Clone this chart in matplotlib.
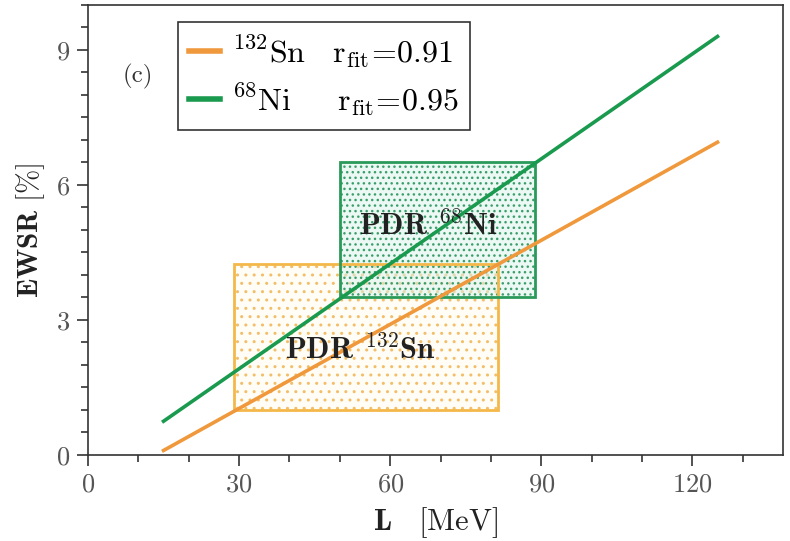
import matplotlib.pyplot as plt
from matplotlib.patches import Rectangle
from matplotlib.ticker import MultipleLocator

plt.rcParams['font.family'] = 'serif'
plt.rcParams['font.serif'] = ['cmr10', 'DejaVu Serif']
plt.rcParams['mathtext.fontset'] = 'cm'
plt.rcParams['axes.formatter.use_mathtext'] = True
plt.rcParams['hatch.linewidth'] = 1.0

# lineas de ajuste (L en MeV, EWSR en %)
L_fit = [15, 125]
sn_fit = [0.1, 6.95]
ni_fit = [0.75, 9.3]

# cajas PDR: [L_min, L_max], [EWSR_min, EWSR_max]
sn_L = [29, 81.5]
sn_ewsr = [1.0, 4.25]
ni_L = [50, 88.7]
ni_ewsr = [3.5, 6.5]

c_sn = '#f0983c'
c_ni = '#1a9a4e'
c_sn_box = '#f4b84a'
c_ni_box = '#2a9a5a'

fig = plt.figure(figsize=(7.9, 5.41), dpi=100)
ax = fig.add_axes([0.1114, 0.159, 0.8797, 0.8318])

# caja Sn
ax.add_patch(Rectangle((sn_L[0], sn_ewsr[0]), sn_L[1] - sn_L[0], sn_ewsr[1] - sn_ewsr[0],
                       facecolor='#fffdf6', edgecolor='#f2be6a', hatch='..', linewidth=0, zorder=1))
ax.add_patch(Rectangle((sn_L[0], sn_ewsr[0]), sn_L[1] - sn_L[0], sn_ewsr[1] - sn_ewsr[0],
                       facecolor='none', edgecolor=c_sn_box, linewidth=2, zorder=2))
# caja Ni
ax.add_patch(Rectangle((ni_L[0], ni_ewsr[0]), ni_L[1] - ni_L[0], ni_ewsr[1] - ni_ewsr[0],
                       facecolor=(0.85, 0.95, 0.92, 0.5), edgecolor='#3a9e6a', hatch='...', linewidth=0, zorder=1.5))
ax.add_patch(Rectangle((ni_L[0], ni_ewsr[0]), ni_L[1] - ni_L[0], ni_ewsr[1] - ni_ewsr[0],
                       facecolor='none', edgecolor=c_ni_box, linewidth=2, zorder=2))

ax.plot(L_fit, sn_fit, color=c_sn, lw=2.6, zorder=3,
        label=r'$^{132}\mathrm{Sn}\quad \mathrm{r}_{\mathrm{fit}}\!=\!0.91$')
ax.plot(L_fit, ni_fit, color=c_ni, lw=2.6, zorder=3,
        label=r'$^{68}\mathrm{Ni}\quad\ \ \mathrm{r}_{\mathrm{fit}}\!=\!0.95$')

ax.text(67.5, 5.1, r'$\mathbf{PDR}\;\, ^{68}\mathbf{Ni}$', fontsize=22, ha='center', va='center', color='#222222', zorder=4)
ax.text(54, 2.35, r'$\mathbf{PDR}\;\, ^{132}\mathbf{Sn}$', fontsize=22, ha='center', va='center', color='#222222', zorder=4)
ax.text(9.8, 8.42, '(c)', fontsize=18, ha='center', va='center', color='#333333')

leg = ax.legend(loc='upper left', bbox_to_anchor=(0.1295, 0.962), borderaxespad=0,
                fontsize=23, handlelength=0.95, handletextpad=0.4, fancybox=False,
                framealpha=1, edgecolor='#333333', borderpad=0.35, labelspacing=0.35)
leg.get_frame().set_linewidth(1.2)
for h in leg.get_lines():
    h.set_linewidth(4)

ax.set_xlim(0, 138)
ax.set_ylim(0, 10)
ax.xaxis.set_major_locator(MultipleLocator(30))
ax.xaxis.set_minor_locator(MultipleLocator(10))
ax.yaxis.set_major_locator(MultipleLocator(3))
ax.yaxis.set_minor_locator(MultipleLocator(0.5))
ax.tick_params(which='both', direction='out', color='#333333', width=1.2, top=False, right=False)
ax.tick_params(which='major', length=8, labelsize=19, labelcolor='#555555', pad=5)
ax.tick_params(which='minor', length=5)
for s in ax.spines.values():
    s.set_color('#333333')
    s.set_linewidth(1.2)

ax.set_xlabel(r'$\mathbf{L}\quad\mathrm{[MeV]}$', fontsize=22, color='#222222', labelpad=6)
ax.set_ylabel(r'$\mathbf{EWSR}\ \mathrm{[\%]}$', fontsize=21, color='#222222', labelpad=6)

fig.savefig('out.png', dpi=100)
